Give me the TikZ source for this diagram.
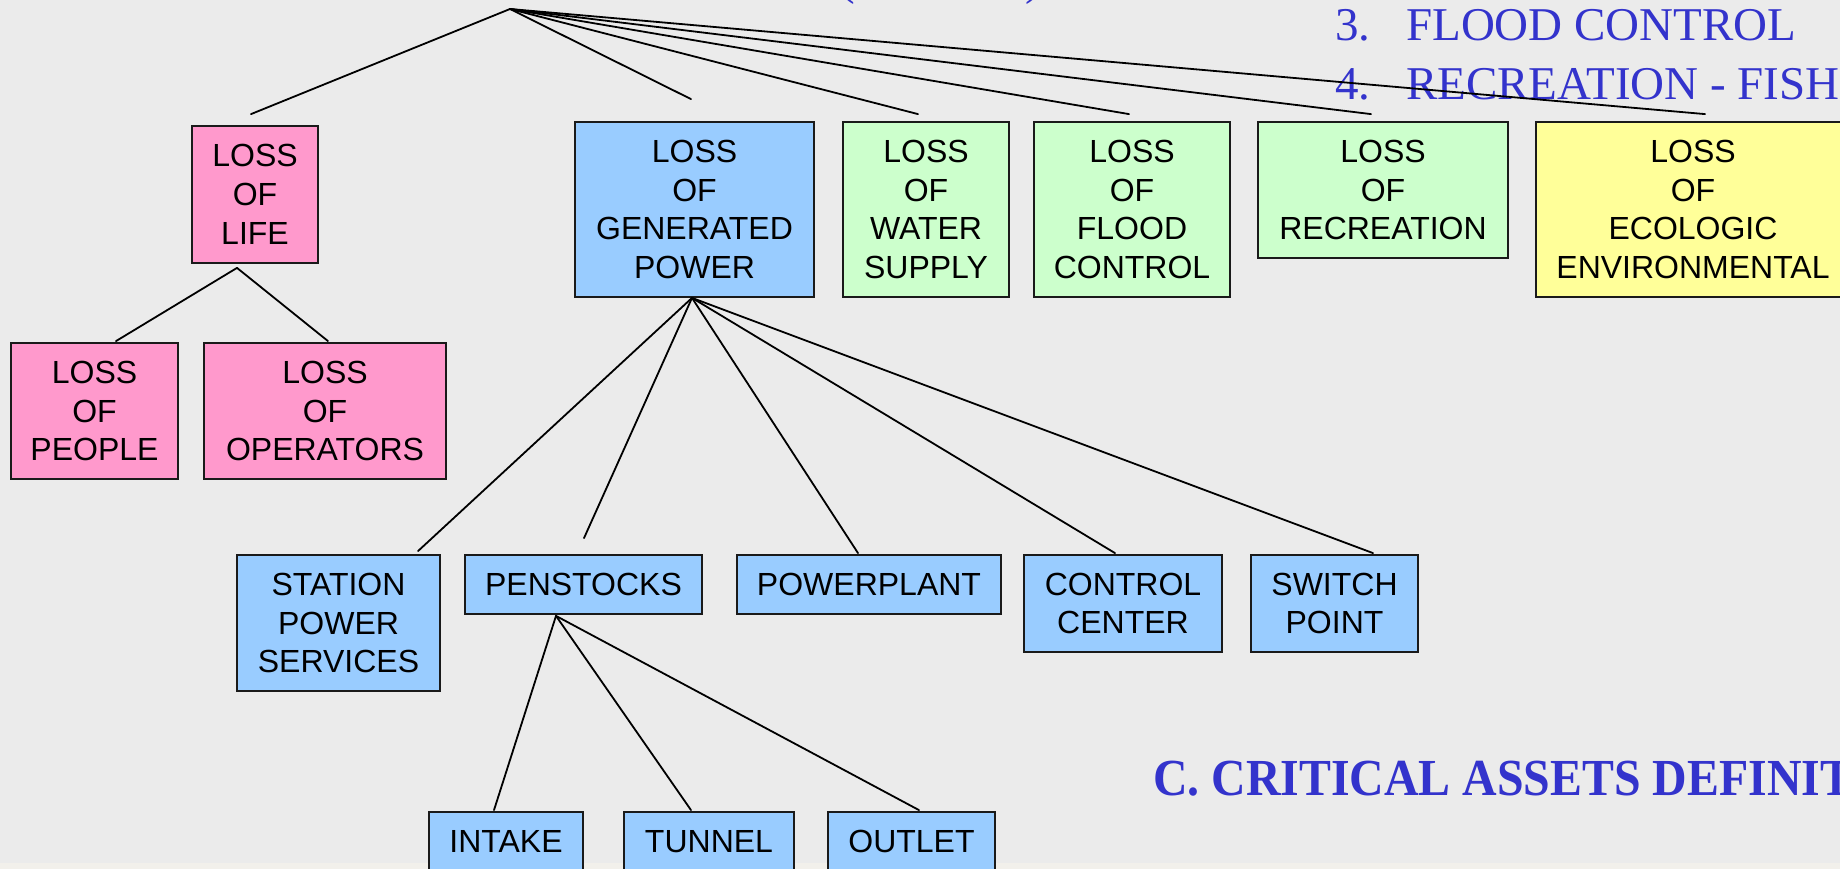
\documentclass[tikz,border=0pt]{standalone}
\usepackage{fontspec}
\setmainfont{Liberation Sans}
\newfontfamily\slideserif{Liberation Serif}
\usetikzlibrary{calc}
\definecolor{slidebg}{HTML}{EBEBEB}
\definecolor{slideband}{HTML}{F2F0EB}
\definecolor{pinkbox}{HTML}{FF99CC}
\definecolor{bluebox}{HTML}{99CCFF}
\definecolor{greenbox}{HTML}{CCFFCC}
\definecolor{yellowbox}{HTML}{FFFF99}
\definecolor{slideblue}{HTML}{3333CC}
\definecolor{boxline}{HTML}{1A1A1A}
\begin{document}
\begin{tikzpicture}[x=1pt,y=-1pt,
  box/.style={draw=boxline, line width=1.8pt, inner sep=0pt, align=center,
    font=\fontsize{32}{38.7}\selectfont},
  lifebox/.style={box, fill=pinkbox},
  powerbox/.style={box, fill=bluebox},
  servicebox/.style={box, fill=greenbox},
  ecobox/.style={box, fill=yellowbox},
  link/.style={draw=black, line width=1.8pt, line cap=round},
  listtext/.style={anchor=base west, inner sep=0pt, text=slideblue,
    font=\slideserif\fontsize{47}{56}\selectfont},
  headtext/.style={anchor=base west, inner sep=0pt, text=slideblue,
    xscale=0.92, transform shape,
    font=\slideserif\bfseries\fontsize{52}{60}\selectfont}]

% slide background
\fill[slidebg] (0,0) rectangle (1840,869);
\fill[slideband] (0,863) rectangle (1840,869);
\useasboundingbox (0,0) rectangle (1840,869);

% slide text around the tree
\node[listtext] (lparen) at (839,-5) {(};
\node[listtext] (rparen) at (1025,-5) {)};
\node[listtext] (item3) at (1335,41) {\makebox[71pt][l]{3.}FLOOD CONTROL};
\node[listtext] (item4) at (1335,100) {\makebox[71pt][l]{4.}RECREATION - FISH};
\node[headtext] (heading) at (1153,795) {C. CRITICAL ASSETS DEFINIT};

% first level of consequences
\node[lifebox, minimum width=126pt, minimum height=137pt] (life) at (255,194.5) {LOSS\\OF\\LIFE};
\node[powerbox, minimum width=239pt, minimum height=175pt] (gen) at (694.5,209.5) {LOSS\\OF\\GENERATED\\POWER};
\node[servicebox, minimum width=166pt, minimum height=175pt] (water) at (926,209.5) {LOSS\\OF\\WATER\\SUPPLY};
\node[servicebox, minimum width=196pt, minimum height=175pt] (flood) at (1132,209.5) {LOSS\\OF\\FLOOD\\CONTROL};
\node[servicebox, minimum width=250pt, minimum height=136pt] (recr) at (1383,190) {LOSS\\OF\\RECREATION};
\node[ecobox, minimum width=314pt, minimum height=175pt] (eco) at (1693,209.5) {LOSS\\OF\\ECOLOGIC\\ENVIRONMENTAL};

% loss of life
\node[lifebox, minimum width=167pt, minimum height=136pt] (people) at (94.5,411) {LOSS\\OF\\PEOPLE};
\node[lifebox, minimum width=242pt, minimum height=136pt] (operators) at (325,411) {LOSS\\OF\\OPERATORS};

% generated power assets
\node[powerbox, minimum width=203pt, minimum height=136pt] (station) at (338.5,623) {STATION\\POWER\\SERVICES};
\node[powerbox, minimum width=237pt, minimum height=59pt] (pen) at (583.5,584.5) {PENSTOCKS};
\node[powerbox, minimum width=264pt, minimum height=59pt] (plant) at (869,584.5) {POWERPLANT};
\node[powerbox, minimum width=198pt, minimum height=97pt] (control) at (1123,603.5) {CONTROL\\CENTER};
\node[powerbox, minimum width=167pt, minimum height=97pt] (switch) at (1334.5,603.5) {SWITCH\\POINT};

% penstock parts
\node[powerbox, minimum width=154pt, minimum height=59pt] (intake) at (506,841.5) {INTAKE};
\node[powerbox, minimum width=170pt, minimum height=59pt] (tunnel) at (709,841.5) {TUNNEL};
\node[powerbox, minimum width=167pt, minimum height=59pt] (outlet) at (911.5,841.5) {OUTLET};

% branch points
\coordinate (apex) at (510,9);
\coordinate (lifeFork) at ($(life.south)+(-18,4)$);
\coordinate (genFork) at ($(gen.south)+(-2.5,0)$);
\coordinate (penFork) at ($(pen.south)+(-27.5,1)$);

% connector ends
\coordinate (lifeEnd) at ($(life.north)+(-4,-11)$);
\coordinate (genEnd) at ($(gen.north)+(-3.5,-22)$);
\coordinate (waterEnd) at ($(water.north)+(-8,-7)$);
\coordinate (floodEnd) at ($(flood.north)+(-3,-7)$);
\coordinate (recrEnd) at ($(recr.north)+(-12,-7)$);
\coordinate (ecoEnd) at ($(eco.north)+(12,-7)$);
\coordinate (peopleEnd) at ($(people.north)+(21.5,-1)$);
\coordinate (operatorsEnd) at ($(operators.north)+(3,-1)$);
\coordinate (stationEnd) at ($(station.north)+(79.5,-3)$);
\coordinate (penEnd) at ($(pen.north)+(0.5,-16)$);
\coordinate (plantEnd) at ($(plant.north)+(-11,-1)$);
\coordinate (controlEnd) at ($(control.north)+(-8,-1)$);
\coordinate (switchEnd) at ($(switch.north)+(38.5,-1)$);
\coordinate (intakeEnd) at ($(intake.north)+(-12,-1)$);
\coordinate (tunnelEnd) at ($(tunnel.north)+(-18,-1)$);
\coordinate (outletEnd) at ($(outlet.north)+(7.5,-1)$);

% connectors
\foreach \e in {lifeEnd,genEnd,waterEnd,floodEnd,recrEnd,ecoEnd}
  \draw[link] (apex) -- (\e);
\foreach \e in {peopleEnd,operatorsEnd}
  \draw[link] (lifeFork) -- (\e);
\foreach \e in {stationEnd,penEnd,plantEnd,controlEnd,switchEnd}
  \draw[link] (genFork) -- (\e);
\foreach \e in {intakeEnd,tunnelEnd,outletEnd}
  \draw[link] (penFork) -- (\e);
\end{tikzpicture}
\end{document}
